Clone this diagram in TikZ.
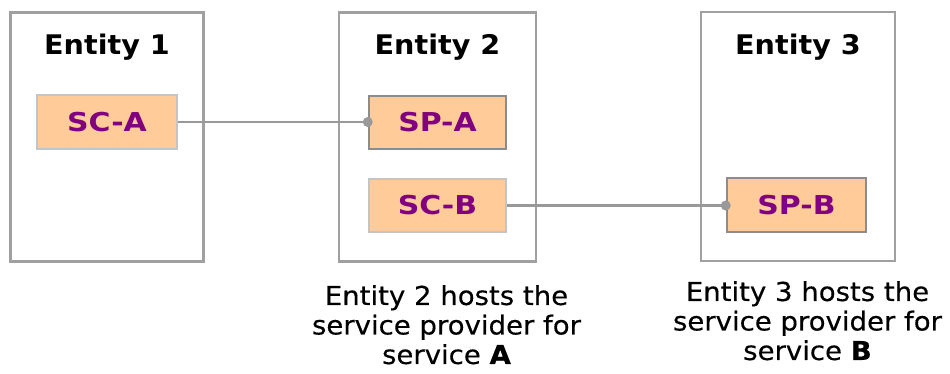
\documentclass[tikz,border=0pt]{standalone}
\usepackage{fontspec}
\setmainfont{DejaVu Sans}
\newfontfamily\titlefont[FakeStretch=1.06]{DejaVu Sans Bold}
\newfontfamily\boxfont[FakeStretch=1.15]{DejaVu Sans Bold}
\newfontfamily\capfont[FakeStretch=1.06, FakeBold=0.4, BoldFont={DejaVu Sans Bold}, BoldFeatures={FakeStretch=1.06}]{DejaVu Sans}
\definecolor{peach}{HTML}{FFCC99}
\definecolor{purp}{HTML}{800080}
\definecolor{outerg}{HTML}{A0A0A0}
\definecolor{lightg}{HTML}{C4C4C4}
\definecolor{darkg}{HTML}{8C8C8C}
\definecolor{connc}{HTML}{999999}
\tikzset{
  entitybox/.style={draw=outerg, line width=2.5pt, fill=white, rectangle, inner sep=0pt},
  svcbox/.style={fill=peach, line width=2.5pt, rectangle, inner sep=0pt,
    text=purp, font=\boxfont\fontsize{26}{30}\selectfont},
  scbox/.style={svcbox, draw=lightg},
  spbox/.style={svcbox, draw=darkg},
  titletext/.style={inner sep=0pt, anchor=base, font=\titlefont\fontsize{27}{31}\selectfont},
  captext/.style={inner sep=0pt, anchor=north, align=center, font=\capfont\fontsize{26}{29.5}\selectfont},
  conn/.style={draw=connc, line width=2.5pt},
  dot/.style={fill=connc}
}
\begin{document}
\begin{tikzpicture}[x=1pt,y=-1pt]
\useasboundingbox (0,0) rectangle (950,373);
% entity boxes
\node[entitybox, minimum width=193pt, minimum height=249pt] (e1) at (107,137) {};
\node[entitybox, minimum width=197pt, minimum height=249pt] (e2) at (437.5,137) {};
\node[entitybox, minimum width=194pt, minimum height=249pt] (e3) at (798,136.5) {};
% titles
\node[titletext] (t1) at (107,54) {Entity 1};
\node[titletext] (t2) at (437.5,54) {Entity 2};
\node[titletext] (t3) at (798,54) {Entity 3};
% service boxes
\node[scbox, minimum width=140pt, minimum height=54pt] (sca) at (107,122) {SC-A};
\node[spbox, minimum width=137pt, minimum height=53pt] (spa) at (437.5,122.5) {SP-A};
\node[scbox, minimum width=137pt, minimum height=53pt] (scb) at (437.5,205.5) {SC-B};
\node[spbox, minimum width=139pt, minimum height=54pt] (spb) at (796.5,205) {SP-B};
% connectors
\draw[conn] (sca.east) -- (sca.east -| spa.west) coordinate (ca);
\fill[dot] (ca) circle (5pt);
\draw[conn] (scb.east) -- (scb.east -| spb.west) coordinate (cb);
\fill[dot] (cb) circle (5pt);
% captions
\node[captext] (c1) at (446.5,285) {Entity 2 hosts the\\service provider for\\service \textbf{A}};
\node[captext] (c2) at (807.5,281) {Entity 3 hosts the\\service provider for\\service \textbf{B}};
\end{tikzpicture}
\end{document}
